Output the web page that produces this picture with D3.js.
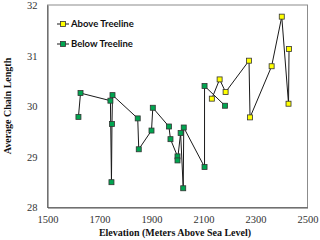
<!DOCTYPE html>
<html>
<head>
<meta charset="utf-8">
<script src="https://cdn.jsdelivr.net/npm/d3@7"></script>
<style>
  body { margin: 0; background: #fff; }
  svg { display: block; }
  .tick text { font-family: "Liberation Serif", serif; font-size: 10.5px; fill: #333; }
  .lbl { font-family: "Liberation Serif", serif; font-size: 10px; font-weight: bold; fill: #111; }
  .leg { font-family: "Lato", "Liberation Sans", sans-serif; font-size: 9.5px; font-weight: bold; fill: #111; }
</style>
</head>
<body>
<svg id="chart" width="320" height="240"></svg>
<script>
// series (in plotting order, as the lines connect them)
var belowElev  = [1619, 1627, 1742, 1746, 1748, 1750, 1847, 1851, 1900, 1905, 1967, 1973, 2000, 2000, 2012, 2022, 2024, 2104, 2104, 2183];
var belowChain = [29.79, 30.26, 30.11, 28.50, 29.65, 30.22, 29.76, 29.15, 29.52, 29.97, 29.60, 29.35, 29.01, 28.93, 29.47, 28.38, 29.58, 28.80, 30.40, 30.01];
var aboveElev  = [2132, 2162, 2185, 2275, 2279, 2362, 2401, 2427, 2429];
var aboveChain = [30.15, 30.53, 30.28, 30.90, 29.78, 30.79, 31.77, 30.05, 31.13];

var xTicks = [1500, 1700, 1900, 2100, 2300, 2500];
var yTicks = [28, 29, 30, 31, 32];
var seriesNames = ["Above Treeline", "Below Treeline"];
var seriesColors = ["#ffff00", "#00a550"];

var svg = d3.select("#chart");
var mLeft = 47.5, mRight = 307.5, mTop = 5, mBottom = 207.5;

var x = d3.scaleLinear().domain([1500, 2500]).range([mLeft, mRight]);
var y = d3.scaleLinear().domain([28, 32]).range([mBottom, mTop]);

// frame
svg.append("rect")
    .attr("x", mLeft).attr("y", mTop)
    .attr("width", mRight - mLeft).attr("height", mBottom - mTop)
    .attr("fill", "none").attr("stroke", "#8c8c8c").attr("stroke-width", 1);

var xAxis = svg.append("g")
    .attr("transform", "translate(0," + mBottom + ")")
    .call(d3.axisBottom(x).tickValues(xTicks).tickSize(0).tickPadding(8).tickFormat(d3.format("d")));
xAxis.select(".domain").attr("stroke", "#555");

var yAxis = svg.append("g")
    .attr("transform", "translate(" + mLeft + ",0)")
    .call(d3.axisLeft(y).tickValues(yTicks).tickSize(0).tickPadding(10).tickFormat(d3.format("d")));
yAxis.select(".domain").attr("stroke", "#555");

var line = d3.line()
    .x(function(d) { return x(d[0]); })
    .y(function(d) { return y(d[1]); });

function drawSeries(elev, chain, color) {
  var pts = d3.zip(elev, chain);
  svg.append("path")
      .datum(pts)
      .attr("d", line)
      .attr("fill", "none")
      .attr("stroke", "#1a1a1a")
      .attr("stroke-width", 1);
  svg.append("g").selectAll("rect")
      .data(pts)
      .enter().append("rect")
      .attr("x", function(d) { return x(d[0]) - 2.5; })
      .attr("y", function(d) { return y(d[1]) - 2.5; })
      .attr("width", 5).attr("height", 5)
      .attr("fill", color)
      .attr("stroke", "#333")
      .attr("stroke-width", 0.8);
}

drawSeries(belowElev, belowChain, seriesColors[1]);
drawSeries(aboveElev, aboveChain, seriesColors[0]);

// legend
var leg = svg.append("g").selectAll("g")
    .data(seriesNames)
    .enter().append("g")
    .attr("transform", function(d, i) { return "translate(57," + (24 + i * 20) + ")"; });
leg.append("line")
    .attr("x1", 0).attr("x2", 12).attr("y1", 0).attr("y2", 0)
    .attr("stroke", "#1a1a1a");
leg.append("rect")
    .attr("x", 3.5).attr("y", -2.5).attr("width", 5).attr("height", 5)
    .attr("fill", function(d, i) { return seriesColors[i]; })
    .attr("stroke", "#333").attr("stroke-width", 0.8);
leg.append("text")
    .attr("class", "leg")
    .attr("x", 14).attr("dy", "0.35em")
    .text(function(d) { return d; });

// axis titles
svg.append("text")
    .attr("class", "lbl")
    .attr("x", 175).attr("y", 236)
    .attr("text-anchor", "middle")
    .text("Elevation (Meters Above Sea Level)");

svg.append("text")
    .attr("class", "lbl")
    .attr("transform", "translate(11,106) rotate(-90)")
    .attr("text-anchor", "middle")
    .text("Average Chain Length");
</script>
</body>
</html>
